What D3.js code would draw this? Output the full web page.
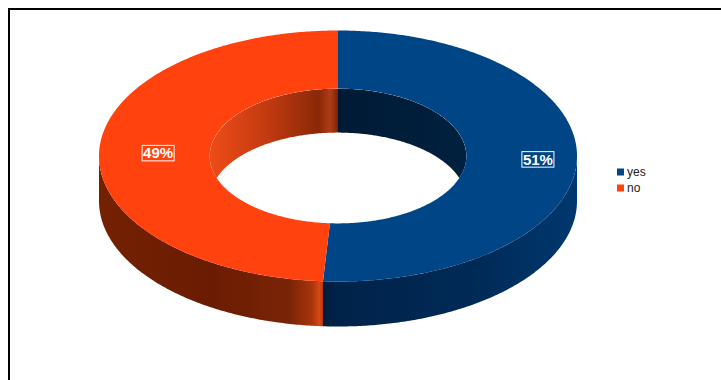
<!DOCTYPE html>
<html>
<head>
<meta charset="utf-8">
<script src="https://cdn.jsdelivr.net/npm/d3@7"></script>
<style>
  html, body { margin: 0; padding: 0; background: #fff; }
  svg { display: block; font-family: "Liberation Sans", Arial, sans-serif; }
</style>
</head>
<body>
<svg id="chart" width="721" height="380"></svg>
<script>
// Survey answers
const categories = ["yes", "no"];
const values = [51, 49];
const labelTexts = ["51%", "49%"];

// Slice colours: top face, outer wall gradient stops, inner wall gradient stops
const topColors = ["#004586", "#ff420e"];
const outerWallStops = [
  [[0, "#001d3d"], [0.06, "#00234a"], [0.6, "#002a57"], [1, "#00386f"]],
  [[0, "#742103"], [0.5, "#6a1c02"], [0.85, "#7a2406"], [0.95, "#a8340c"], [0.985, "#d84814"], [1, "#b8380e"]]
];
const innerWallStops = [
  [[0, "#001a35"], [1, "#00213f"]],
  [[0, "#ee4c18"], [0.45, "#c23a10"], [0.85, "#8a2808"], [0.94, "#b03c16"], [1, "#7c2206"]]
];

const svg = d3.select("#chart");
const defs = svg.append("defs");

// Frame around the chart area
svg.append("rect")
  .attr("x", 9).attr("y", 9)
  .attr("width", 800).attr("height", 500)
  .attr("fill", "none").attr("stroke", "#000").attr("stroke-width", 2);

// Projected ring geometry
const cx = 338, cy = 156, rx = 239, ry = 125.5;
const innerK = 0.537;
const depth = 45;

const pie = d3.pie().sort(null).value(d => d)(values);

function pt(a, k, dy) {
  return [cx + rx * k * Math.sin(a), cy - ry * k * Math.cos(a) + dy];
}
function arcPts(a0, a1, k, dy) {
  const n = Math.max(2, Math.ceil(Math.abs(a1 - a0) / 0.01));
  return d3.range(n + 1).map(i => pt(a0 + (a1 - a0) * i / n, k, dy));
}
const line = d3.line();
function closed(points) { return line(points) + "Z"; }

function intersect(a0, a1, b0, b1) {
  const s = Math.max(a0, b0), e = Math.min(a1, b1);
  return s < e ? [s, e] : null;
}

function gradient(id, stops, x1, x2) {
  const g = defs.append("linearGradient")
    .attr("id", id)
    .attr("gradientUnits", "userSpaceOnUse")
    .attr("x1", x1).attr("x2", x2).attr("y1", 0).attr("y2", 0);
  stops.forEach(([o, c]) => g.append("stop").attr("offset", o).attr("stop-color", c));
  return `url(#${id})`;
}

// Clip for the hole: the inner top ellipse
defs.append("clipPath").attr("id", "hole")
  .append("path").attr("d", closed(arcPts(0, 2 * Math.PI, innerK, 0)));

const frontRange = [Math.PI / 2, 3 * Math.PI / 2];
const backRanges = [[0, Math.PI / 2], [3 * Math.PI / 2, 2 * Math.PI]];

// Outer walls (front half)
const gOuter = svg.append("g");
pie.forEach((s, i) => {
  const r = intersect(s.startAngle, s.endAngle, frontRange[0], frontRange[1]);
  if (!r) return;
  const xs = [pt(r[0], 1, 0)[0], pt(r[1], 1, 0)[0]];
  const fill = gradient("ow" + i, outerWallStops[i], Math.min(...xs), Math.max(...xs));
  gOuter.append("path")
    .attr("d", closed(arcPts(r[0], r[1], 1, 0).concat(arcPts(r[1], r[0], 1, depth))))
    .attr("fill", fill);
});

// Top faces
const gTop = svg.append("g");
pie.forEach((s, i) => {
  gTop.append("path")
    .attr("d", closed(arcPts(s.startAngle, s.endAngle, 1, 0)
      .concat(arcPts(s.endAngle, s.startAngle, innerK, 0))))
    .attr("fill", topColors[i]);
});

// Inner walls (back half, seen through the hole)
const gInner = svg.append("g").attr("clip-path", "url(#hole)");
pie.forEach((s, i) => {
  backRanges.forEach((br, j) => {
    const r = intersect(s.startAngle, s.endAngle, br[0], br[1]);
    if (!r) return;
    const xs = [pt(r[0], innerK, 0)[0], pt(r[1], innerK, 0)[0]];
    const fill = gradient(`iw${i}_${j}`, innerWallStops[i], Math.min(...xs), Math.max(...xs));
    gInner.append("path")
      .attr("d", closed(arcPts(r[0], r[1], innerK, 0).concat(arcPts(r[1], r[0], innerK, depth - 1))))
      .attr("fill", fill);
  });
});

// Percentage labels
const labelK = 0.795, labelDx = 10;
const gLab = svg.append("g");
pie.forEach((s, i) => {
  const mid = (s.startAngle + s.endAngle) / 2;
  const [lx0, ly] = pt(mid, labelK, 0);
  const lx = lx0 + labelDx;
  const t = gLab.append("text")
    .attr("x", lx).attr("y", ly + 5.5)
    .attr("text-anchor", "middle")
    .attr("font-size", 15)
    .attr("font-weight", "bold")
    .attr("fill", "#fff")
    .text(labelTexts[i]);
  const bb = t.node().getBBox();
  gLab.insert("rect", "text")
    .attr("x", bb.x - 1).attr("y", ly - 7.5)
    .attr("width", bb.width + 2).attr("height", 15.5)
    .attr("fill", "none").attr("stroke", "#fff").attr("stroke-width", 1);
});

// Legend
const legend = svg.append("g").attr("transform", "translate(617,168.5)");
categories.forEach((c, i) => {
  const row = legend.append("g").attr("transform", `translate(0,${i * 16})`);
  row.append("rect").attr("width", 7).attr("height", 7).attr("fill", topColors[i]);
  row.append("text").attr("x", 10).attr("y", 7.5)
    .attr("font-size", 12).attr("fill", "#222").text(c);
});
</script>
</body>
</html>
